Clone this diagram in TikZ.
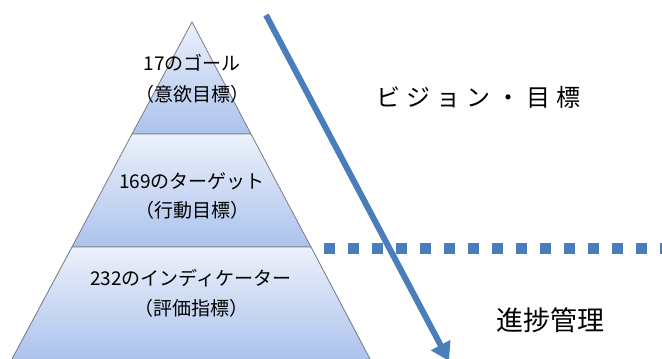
\documentclass[tikz,border=0pt]{standalone}
\usepackage{fontspec}
\newfontfamily\jpfont{Noto Sans CJK JP}
\usetikzlibrary{arrows.meta}

\definecolor{sdgblue}{RGB}{74,126,187}
\definecolor{tiertop}{RGB}{236,241,251}
\definecolor{tierbot}{RGB}{172,194,236}
\definecolor{tierline}{RGB}{120,124,134}

\tikzset{every picture/.style={line width=0.75pt}}
\tikzset{
  tier/.style={top color=tiertop, bottom color=tierbot, draw=tierline, line width=0.8pt},
  tiertext/.style={inner sep=0.75pt, font=\jpfont\fontsize{19}{22}\selectfont, align=center},
  sidetext/.style={inner sep=0.75pt, font=\jpfont\fontsize{24}{28}\selectfont}
}

\begin{document}
\begin{tikzpicture}[x=1pt,y=1pt,yscale=-1,xscale=1]
    \useasboundingbox (0,0) rectangle (662,359);

    %Shape: Top tier
    \draw [tier] (192,22) -- (251,134) -- (132,134) -- cycle ;
    %Shape: Middle tier
    \draw [tier] (132,134) -- (251,134) -- (311,247) -- (72,247) -- cycle ;
    %Shape: Bottom tier
    \fill [top color=tiertop, bottom color=tierbot] (72,247) -- (311,247) -- (370,359) -- (12,359) -- cycle ;
    \draw [tierline, line width=0.8pt] (12,359) -- (72,247) -- (311,247) -- (370,359) ;

    %Straight Lines: dotted border
    \coordinate (dotstart) at (324,248) ;
    \coordinate (dotend) at (668,248) ;
    \draw [sdgblue, line width=11pt, dash pattern=on 11pt off 13pt] (dotstart) -- (dotend) ;

    %Arrow
    \coordinate (arrowstart) at (266,15) ;
    \coordinate (arrowend) at (449,361) ;
    \draw [sdgblue, line width=6pt, -{Triangle[width=21pt,length=18pt]}] (arrowstart) -- (arrowend) ;

    % Text Node
    \draw (192,63) node [tiertext] (goal) {17のゴール} ;
    % Text Node
    \draw (192,94) node [tiertext] (goalsub) {（意欲目標）} ;
    % Text Node
    \draw (192,181) node [tiertext] (target) {169のターゲット} ;
    % Text Node
    \draw (192,210) node [tiertext] (targetsub) {（行動目標）} ;
    % Text Node
    \draw (191,278) node [tiertext] (indicator) {232のインディケーター} ;
    % Text Node
    \draw (191,308) node [tiertext] (indicatorsub) {（評価指標）} ;

    % Text Node
    \draw (478,97) node [sidetext] (vision) {ビ\hspace{6pt}ジ\hspace{6pt}ョ\hspace{6pt}ン\hspace{6pt}・\hspace{6pt}目\hspace{6pt}標} ;
    % Text Node
    \draw (550,320) node [sidetext, font=\jpfont\fontsize{27}{30}\selectfont] (progress) {進捗管理} ;

\end{tikzpicture}
\end{document}
